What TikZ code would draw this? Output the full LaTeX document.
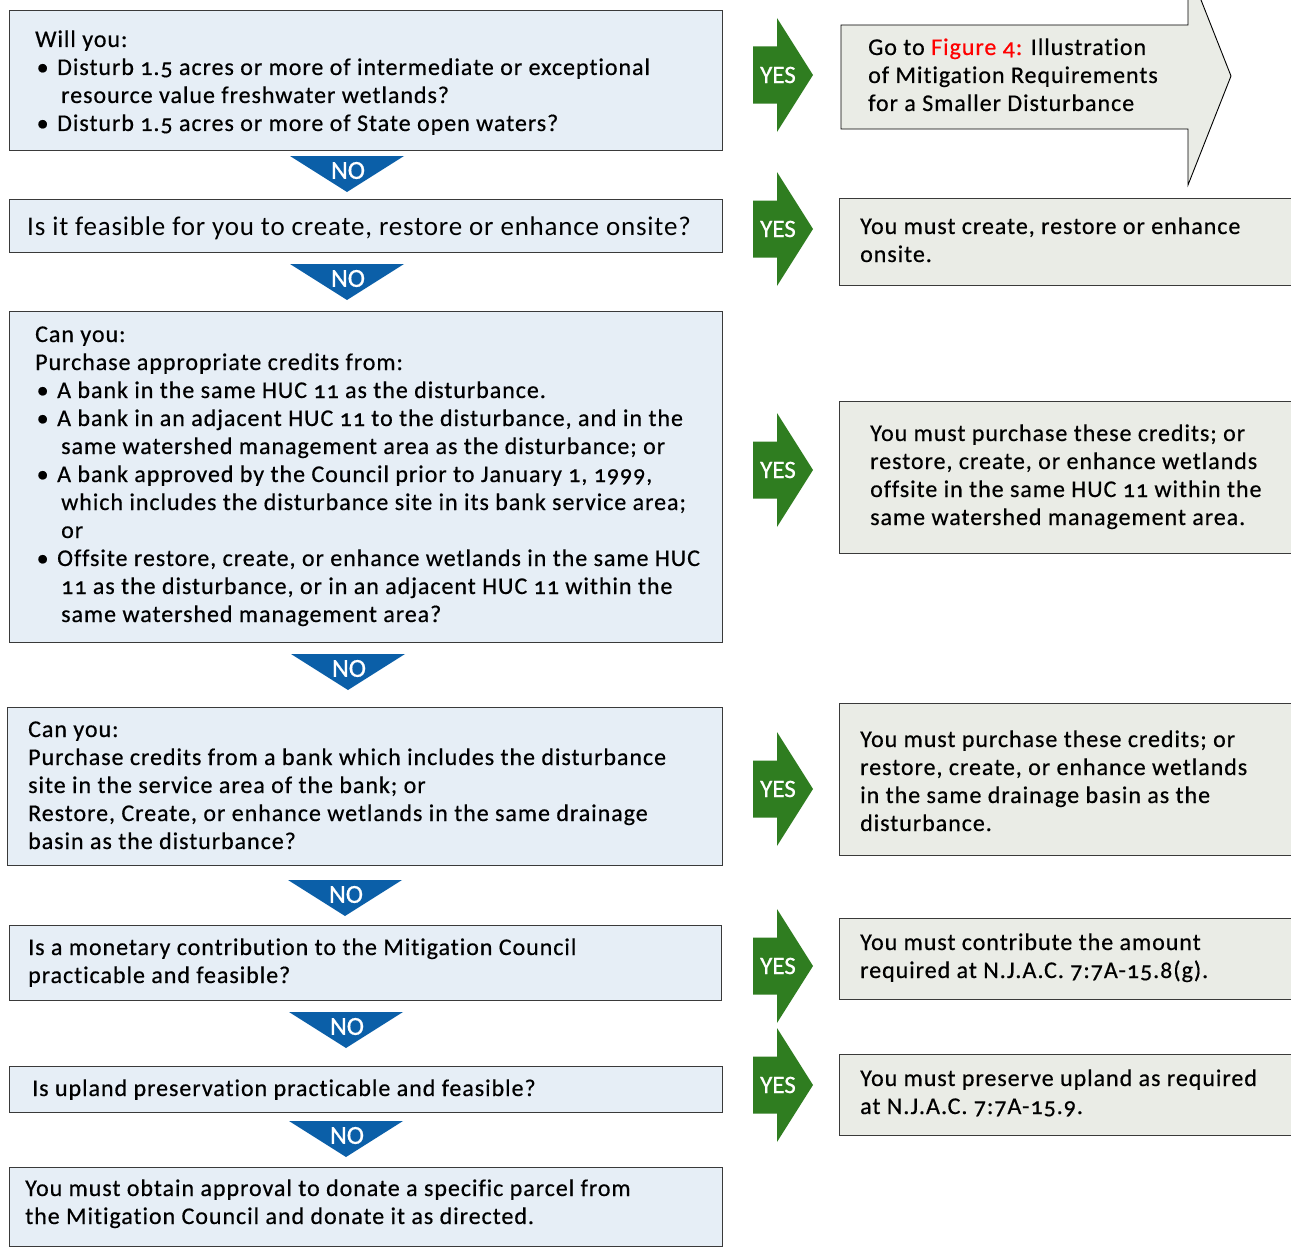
\documentclass[tikz,border=0pt]{standalone}
\usepackage{fontspec}
\setmainfont{Carlito}[Numbers=OldStyle, LetterSpace=4, FakeBold=0.5, Ligatures=NoCommon]
\newfontfamily\plainf{Carlito}[Numbers=OldStyle, LetterSpace=3, Ligatures=NoCommon]
\newfontfamily\tagf{Carlito}[FakeBold=0.8]
\definecolor{lblue}{HTML}{E6EEF6}
\definecolor{lgray}{HTML}{EAECE6}
\definecolor{bord}{HTML}{3A3A3A}
\definecolor{yesg}{HTML}{2F7D20}
\definecolor{nob}{HTML}{0B5FA8}
\newcommand\mylines[1]{\vtop{\baselineskip=28pt\lineskiplimit=-100pt\halign{##\hfil\cr#1\crcr}}}
\newcommand\bul[1]{\makebox[22pt][l]{\hspace{1.5pt}\textbullet}#1}
\newcommand\cont[1]{\hspace*{26pt}#1}
\tikzset{
  lbox/.style={draw=bord, line width=1.3pt, fill=lblue, anchor=north west, inner sep=0pt},
  rbox/.style={draw=bord, line width=1.3pt, fill=lgray, anchor=north west, inner sep=0pt},
  txt/.style={anchor=base west, inner sep=0pt, font=\fontsize{24}{28}\selectfont},
  yesarrow/.pic={
    \fill[yesg] (-24,-28.5) -- (0,-28.5) -- (0,-57) -- (36,0) -- (0,57) -- (0,28.5) -- (-24,28.5) -- cycle;
    \node[white, inner sep=0pt, font=\tagf\fontsize{25}{28}\selectfont] (-t) at (1,0) {YES};
  },
  noarrow/.pic={
    \fill[nob] (-57,0) -- (57,0) -- (0,36) -- cycle;
    \node[white, inner sep=0pt, font=\tagf\fontsize{26}{28}\selectfont] (-t) at (1,14.5) {NO};
  }
}
\begin{document}
\begin{tikzpicture}[x=1pt,y=-1pt]
\path[use as bounding box] (0,0) rectangle (1291,1247);
\clip (0,0) rectangle (1291,1247);

% left question boxes
\node[lbox, minimum width=713pt, minimum height=140pt] (q1) at (9,10) {};
\node[txt] (q1t) at (35,47) {\mylines{Will you:\cr
\bul{Disturb 1.5 acres or more of intermediate or exceptional}\cr
\cont{resource value freshwater wetlands?}\cr
\bul{Disturb 1.5 acres or more of State open waters?}}};

\node[lbox, minimum width=713pt, minimum height=53pt] (q2) at (9,199) {};
\node[txt, font=\plainf\fontsize{27}{28}\selectfont] (q2t) at (27,235) {Is it feasible for you to create, restore or enhance onsite?};

\node[lbox, minimum width=713pt, minimum height=331pt] (q3) at (9,311) {};
\node[txt] (q3t) at (35,342) {\mylines{Can you:\cr
Purchase appropriate credits from:\cr
\bul{A bank in the same HUC 11 as the disturbance.}\cr
\bul{A bank in an adjacent HUC 11 to the disturbance, and in the}\cr
\cont{same watershed management area as the disturbance; or}\cr
\bul{A bank approved by the Council prior to January 1, 1999,}\cr
\cont{which includes the disturbance site in its bank service area;}\cr
\cont{or}\cr
\bul{Offsite restore, create, or enhance wetlands in the same HUC}\cr
\cont{11 as the disturbance, or in an adjacent HUC 11 within the}\cr
\cont{same watershed management area?}}};

\node[lbox, minimum width=715pt, minimum height=158pt] (q4) at (7,707) {};
\node[txt] (q4t) at (28,737) {\mylines{Can you:\cr
Purchase credits from a bank which includes the disturbance\cr
site in the service area of the bank; or\cr
Restore, Create, or enhance wetlands in the same drainage\cr
basin as the disturbance?}};

\node[lbox, minimum width=712pt, minimum height=75pt] (q5) at (9,925) {};
\node[txt] (q5t) at (28,955) {\mylines{Is a monetary contribution to the Mitigation Council\cr
practicable and feasible?}};

\node[lbox, minimum width=713pt, minimum height=46pt] (q6) at (9,1066) {};
\node[txt] (q6t) at (32,1096) {Is upland preservation practicable and feasible?};

\node[lbox, minimum width=713pt, minimum height=79pt] (q7) at (9,1167) {};
\node[txt] (q7t) at (25,1196) {\mylines{You must obtain approval to donate a specific parcel from\cr
the Mitigation Council and donate it as directed.}};

% right answer boxes
\draw[fill=lgray, draw=black, line width=0.9pt] (841,25) -- (1188,25) -- (1188,-33) -- (1231,76) -- (1188,185) -- (1188,129) -- (841,129) -- cycle;
\coordinate (a1) at (841,25);
\node[txt] (a1t) at (868,55) {\mylines{Go to {\color{red}Figure 4:} Illustration\cr
of Mitigation Requirements\cr
for a Smaller Disturbance}};

\node[rbox, minimum width=460pt, minimum height=87pt] (a2) at (839,198) {};
\node[txt] (a2t) at (860,234) {\mylines{You must create, restore or enhance\cr onsite.}};

\node[rbox, minimum width=460pt, minimum height=152pt] (a3) at (839,401) {};
\node[txt] (a3t) at (870,441) {\mylines{You must purchase these credits; or\cr
restore, create, or enhance wetlands\cr
offsite in the same HUC 11 within the\cr
same watershed management area.}};

\node[rbox, minimum width=460pt, minimum height=152pt] (a4) at (839,703) {};
\node[txt] (a4t) at (860,747) {\mylines{You must purchase these credits; or\cr
restore, create, or enhance wetlands\cr
in the same drainage basin as the\cr
disturbance.}};

\node[rbox, minimum width=460pt, minimum height=81pt] (a5) at (839,918) {};
\node[txt] (a5t) at (860,950) {\mylines{You must contribute the amount\cr
required at N.J.A.C. 7:7A-15.8(g).}};

\node[rbox, minimum width=460pt, minimum height=81pt] (a6) at (839,1054) {};
\node[txt] (a6t) at (860,1086) {\mylines{You must preserve upland as required\cr
at N.J.A.C. 7:7A-15.9.}};

% NO arrows
\pic (n1) at (347,156) {noarrow};
\pic (n2) at (347,264) {noarrow};
\pic (n3) at (348,654) {noarrow};
\pic (n4) at (345,880) {noarrow};
\pic (n5) at (346,1012) {noarrow};
\pic (n6) at (346,1121) {noarrow};

% YES arrows
\pic (y1) at (777,75) {yesarrow};
\pic (y2) at (777,229) {yesarrow};
\pic (y3) at (777,470) {yesarrow};
\pic (y4) at (777,789) {yesarrow};
\pic (y5) at (777,966) {yesarrow};
\pic (y6) at (777,1085) {yesarrow};
\end{tikzpicture}
\end{document}
